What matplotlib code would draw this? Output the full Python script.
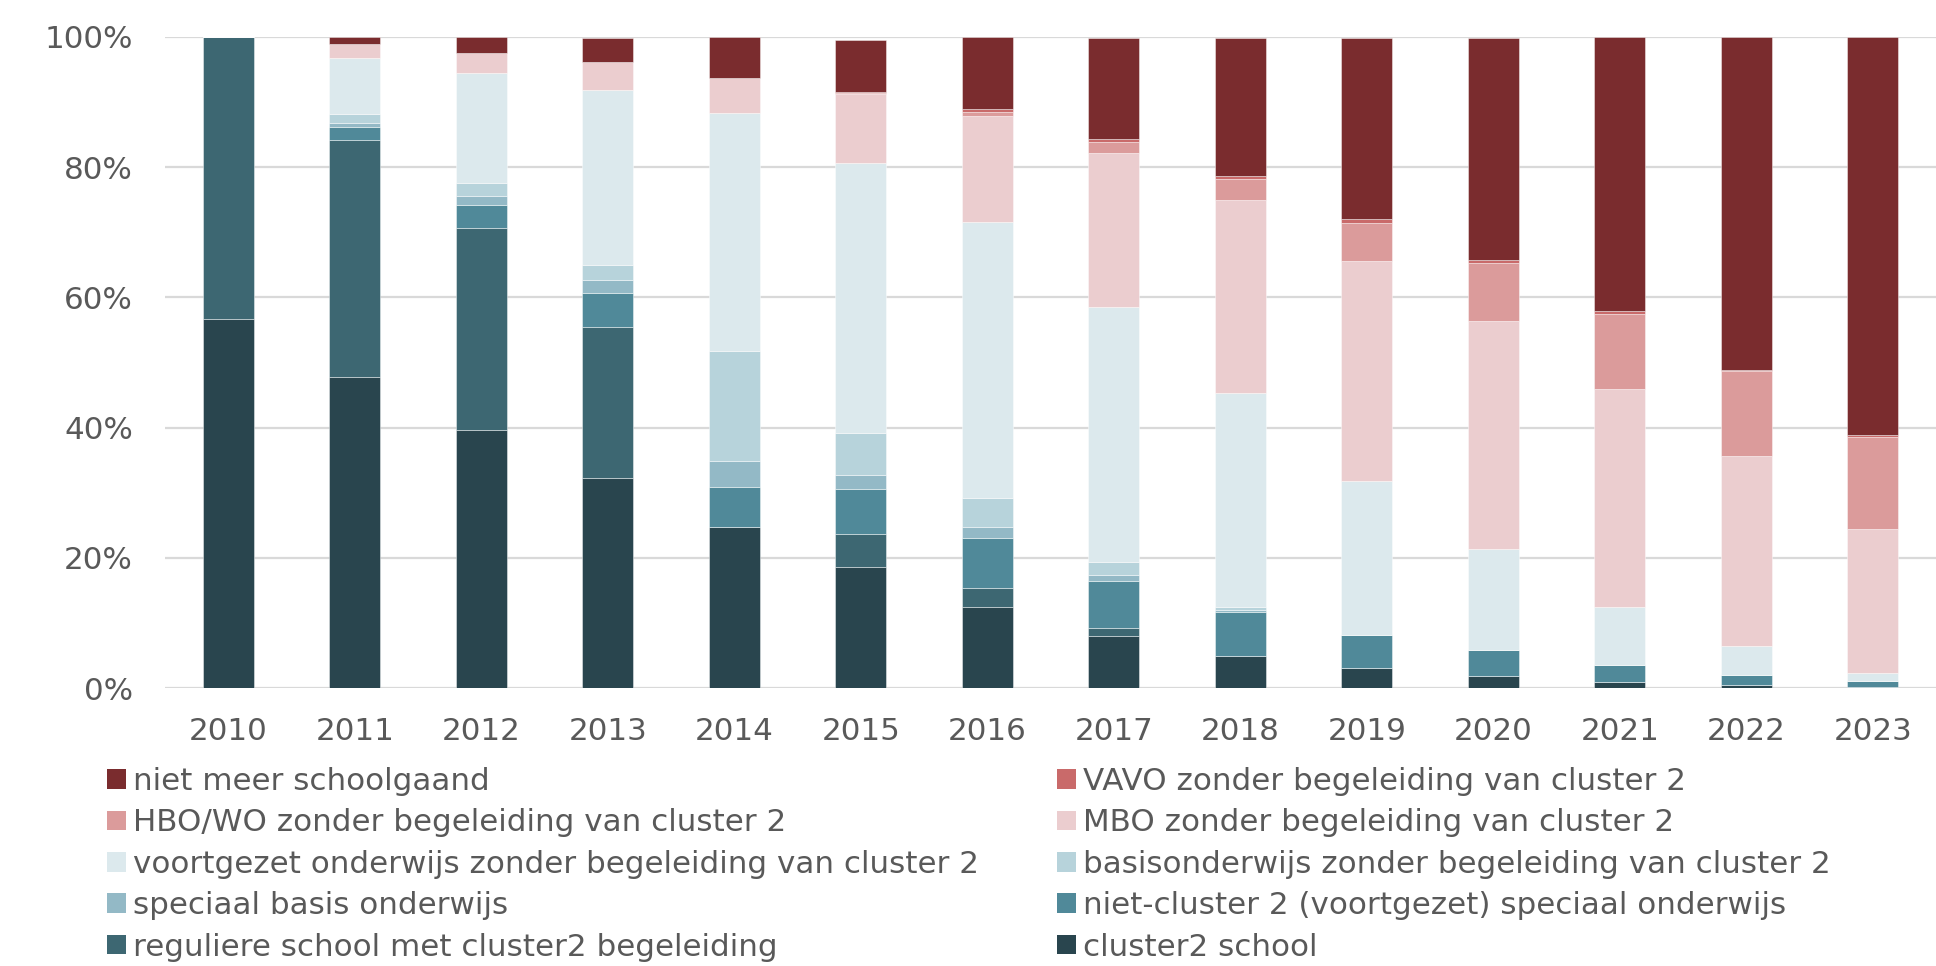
import matplotlib
matplotlib.use("Agg")
import matplotlib.pyplot as plt
from matplotlib.patches import Patch
import numpy as np

years = ["2010", "2011", "2012", "2013", "2014", "2015", "2016",
         "2017", "2018", "2019", "2020", "2021", "2022", "2023"]

# stacked from bottom to top (percent)
cluster2_school = [56.7, 47.7, 39.7, 32.2, 24.8, 18.6, 12.5, 8.0, 4.9, 3.0, 1.8, 0.9, 0.5, 0.2]
regulier_cluster2 = [43.3, 36.5, 31.0, 23.3, 0.0, 5.1, 2.9, 1.2, 0.0, 0.0, 0.0, 0.0, 0.0, 0.0]
niet_cluster2_so = [0.0, 1.9, 3.5, 5.1, 6.0, 6.8, 7.6, 7.3, 6.8, 5.2, 4.0, 2.7, 1.5, 0.8]
speciaal_basis = [0.0, 0.7, 1.3, 2.1, 4.1, 2.2, 1.7, 0.8, 0.3, 0.0, 0.0, 0.0, 0.0, 0.0]
basisonderwijs = [0.0, 1.4, 2.0, 2.3, 16.9, 6.5, 4.5, 2.0, 0.5, 0.0, 0.0, 0.0, 0.0, 0.0]
voortgezet = [0.0, 8.6, 17.0, 26.8, 36.5, 41.4, 42.4, 39.2, 32.8, 23.6, 15.6, 8.8, 4.5, 1.3]
mbo = [0.0, 2.1, 3.1, 4.4, 5.4, 10.7, 16.2, 23.7, 29.6, 33.8, 34.9, 33.5, 29.1, 22.1]
hbo_wo = [0.0, 0.0, 0.0, 0.0, 0.0, 0.1, 0.7, 1.7, 3.3, 5.8, 9.0, 11.6, 13.1, 14.2]
vavo = [0.0, 0.0, 0.0, 0.0, 0.0, 0.1, 0.4, 0.4, 0.5, 0.6, 0.5, 0.4, 0.2, 0.3]
niet_meer = [0.0, 1.1, 2.4, 3.6, 6.3, 8.0, 11.1, 15.5, 21.2, 27.8, 34.0, 42.1, 51.1, 61.1]

series = [
    ("cluster2 school", cluster2_school, "#29454e"),
    ("reguliere school met cluster2 begeleiding", regulier_cluster2, "#3d6772"),
    ("niet-cluster 2 (voortgezet) speciaal onderwijs", niet_cluster2_so, "#508999"),
    ("speciaal basis onderwijs", speciaal_basis, "#93b9c6"),
    ("basisonderwijs zonder begeleiding van cluster 2", basisonderwijs, "#b7d3db"),
    ("voortgezet onderwijs zonder begeleiding van cluster 2", voortgezet, "#dce9ed"),
    ("MBO zonder begeleiding van cluster 2", mbo, "#ebcdcf"),
    ("HBO/WO zonder begeleiding van cluster 2", hbo_wo, "#db9b9b"),
    ("VAVO zonder begeleiding van cluster 2", vavo, "#c96a6a"),
    ("niet meer schoolgaand", niet_meer, "#7a2c2e"),
]

TXT = "#595959"
FS = 22.3

fig = plt.figure(figsize=(19.36, 9.66), dpi=100)
ax = fig.add_axes([165 / 1936, 1 - 688 / 966, 1 - 165 / 1936, (688 - 37) / 966])

x = np.arange(len(years))
bottom = np.zeros(len(years))
colors = {}
for name, vals, col in series:
    v = np.array(vals)
    ax.bar(x, v, width=0.4, bottom=bottom, color=col, edgecolor=(1, 1, 1, 0.5),
           linewidth=0.6, zorder=3)
    bottom += v
    colors[name] = col

ax.set_xlim(-0.5, len(years) - 0.5)
ax.set_ylim(0, 100)
ax.set_yticks([0, 20, 40, 60, 80, 100])
ax.set_yticklabels(["0%", "20%", "40%", "60%", "80%", "100%"])
ax.set_xticks(x)
ax.set_xticklabels(years)
ax.tick_params(axis="both", length=0, labelsize=FS, colors=TXT)
ax.tick_params(axis="y", pad=23)
ax.tick_params(axis="x", pad=21)
ax.grid(axis="y", color="#d9d9d9", linewidth=1.6, zorder=0)
ax.set_axisbelow(True)
for s in ax.spines.values():
    s.set_visible(False)

col1 = ["niet meer schoolgaand", "HBO/WO zonder begeleiding van cluster 2",
        "voortgezet onderwijs zonder begeleiding van cluster 2",
        "speciaal basis onderwijs", "reguliere school met cluster2 begeleiding"]
col2 = ["VAVO zonder begeleiding van cluster 2", "MBO zonder begeleiding van cluster 2",
        "basisonderwijs zonder begeleiding van cluster 2",
        "niet-cluster 2 (voortgezet) speciaal onderwijs", "cluster2 school"]

for names, xleft in [(col1, 107), (col2, 1057)]:
    handles = [Patch(facecolor=colors[n], edgecolor="none") for n in names]
    fig.legend(handles, names, loc="upper left",
               bbox_to_anchor=(xleft / 1936, 1 - 767 / 966),
               frameon=False, fontsize=FS, labelcolor=TXT,
               handlelength=0.6, handleheight=0.6, handletextpad=0.25,
               labelspacing=0.40, borderpad=0, borderaxespad=0)

fig.savefig("out.png", dpi=100)
